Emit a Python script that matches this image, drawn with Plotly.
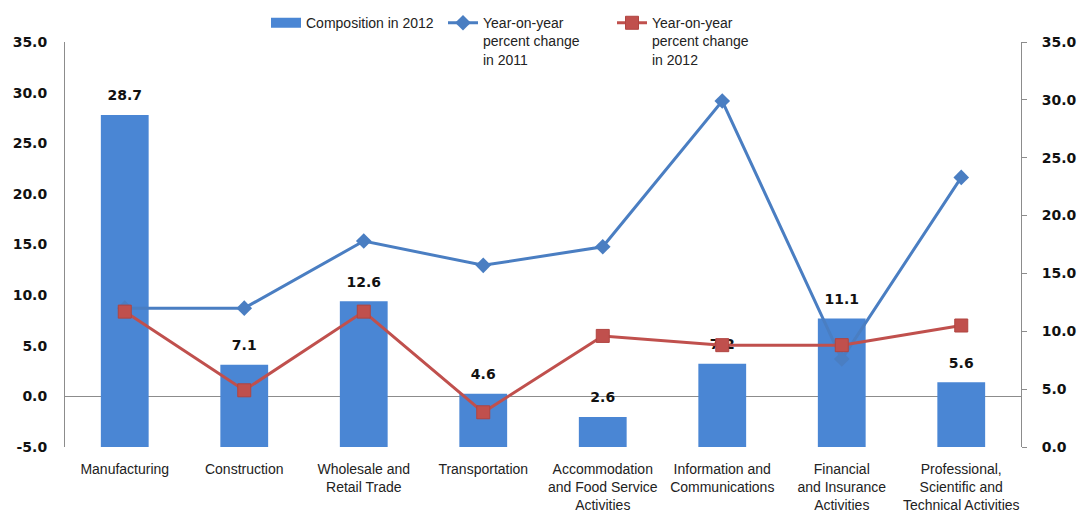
import plotly.graph_objects as go

categories = ["Manufacturing", "Construction", "Wholesale and<br>Retail Trade", "Transportation",
              "Accommodation<br>and Food Service<br>Activities", "Information and<br>Communications",
              "Financial<br>and Insurance<br>Activities", "Professional,<br>Scientific and<br>Technical Activities"]
composition_2012 = [28.7, 7.1, 12.6, 4.6, 2.6, 7.2, 11.1, 5.6]
yoy_2011 = [12.0, 12.0, 17.8, 15.7, 17.3, 29.9, 7.6, 23.3]
yoy_2012 = [11.7, 4.9, 11.7, 3.0, 9.6, 8.8, 8.8, 10.5]
left_ticks = [-5, 0, 5, 10, 15, 20, 25, 30, 35]
right_ticks = [0, 5, 10, 15, 20, 25, 30, 35]

BAR = "#4A86D4"
BLUE = "#4A7EC2"
RED = "#C0504D"
NUM_FONT = dict(family="DejaVu Sans", size=14, color="#111111", weight="bold")
TXT_FONT = dict(family="Liberation Sans", size=14, color="#222222")

fig = go.Figure()
# empty trace that anchors the left axis
fig.add_trace(go.Scatter(x=categories, y=[None] * len(categories), mode="lines",
                         yaxis="y", showlegend=False, hoverinfo="skip"))
fig.add_trace(go.Bar(
    x=categories, y=composition_2012, name="Composition in 2012",
    marker=dict(color=BAR, line=dict(width=0)), yaxis="y2", showlegend=False,
    width=0.4, hoverinfo="skip"))
# legend swatch for the bars (wide rectangle like the original)
fig.add_trace(go.Scatter(
    x=[None], y=[None], mode="lines", yaxis="y2", legend="legend",
    name="Composition in 2012", line=dict(color=BAR, width=10), hoverinfo="skip"))
# data labels (drawn below the lines)
fig.add_trace(go.Scatter(
    x=categories, y=composition_2012, mode="markers+text", yaxis="y2",
    text=[f"{v:.1f}" for v in composition_2012], textposition="top center",
    textfont=NUM_FONT, marker=dict(size=16, color="rgba(0,0,0,0)"),
    showlegend=False, hoverinfo="skip", cliponaxis=False))
fig.add_trace(go.Scatter(
    x=categories, y=yoy_2011, mode="lines+markers", yaxis="y2", legend="legend2",
    name="Year-on-year<br>percent change<br>in 2011",
    line=dict(color=BLUE, width=3), marker=dict(symbol="diamond", size=12, color=BLUE),
    cliponaxis=False))
fig.add_trace(go.Scatter(
    x=categories, y=yoy_2012, mode="lines+markers", yaxis="y2", legend="legend3",
    name="Year-on-year<br>percent change<br>in 2012",
    line=dict(color=RED, width=3),
    marker=dict(symbol="square", size=13, color=RED, line=dict(color="#B04440", width=1)),
    cliponaxis=False))

def leg(xpx):
    return dict(x=(xpx - 65) / 956, xanchor="left", y=1.086, yanchor="top",
                orientation="h", valign="top", font=TXT_FONT, bgcolor="rgba(0,0,0,0)",
                traceorder="normal")

fig.update_layout(
    width=1078, height=518,
    margin=dict(l=65, r=57, t=42, b=71, autoexpand=False),
    paper_bgcolor="white", plot_bgcolor="white",
    showlegend=True,
    legend=leg(266), legend2=leg(443), legend3=leg(612),
    xaxis=dict(range=[-0.5, 7.5], showline=False, showgrid=False, ticks="",
               tickfont=TXT_FONT, zeroline=False, ticklabelstandoff=12),
    yaxis=dict(range=[-5, 35], tickvals=left_ticks, ticktext=[f"{v:.1f}" for v in left_ticks],
               showgrid=False, showline=True, linecolor="#8C8C8C", linewidth=1,
               ticks="", tickfont=NUM_FONT, ticklabelstandoff=14,
               zeroline=True, zerolinecolor="#8C8C8C", zerolinewidth=1),
    yaxis2=dict(range=[0, 35], tickvals=right_ticks, ticktext=[f"{v:.1f}" for v in right_ticks],
                overlaying="y", side="right", showgrid=False, showline=True,
                linecolor="#8C8C8C", linewidth=1, ticks="outside", ticklen=5,
                tickcolor="#8C8C8C", tickfont=NUM_FONT, ticklabelstandoff=12, zeroline=False),
)
fig.write_html("out.html")
